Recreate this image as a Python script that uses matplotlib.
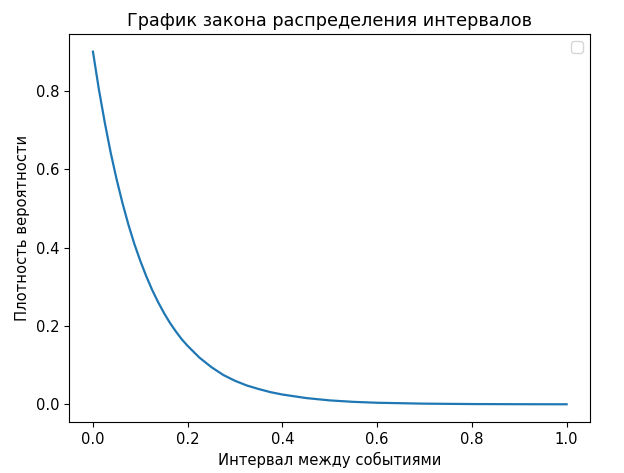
import matplotlib
matplotlib.use("Agg")
import matplotlib.pyplot as plt

# values
interval = [0.0, 0.0125, 0.025, 0.0375, 0.05, 0.0625, 0.075, 0.0875, 0.1, 0.1125,
            0.125, 0.1375, 0.15, 0.1625, 0.175, 0.1875, 0.2, 0.225, 0.25, 0.275,
            0.3, 0.325, 0.35, 0.375, 0.4, 0.45, 0.5, 0.55, 0.6, 0.7, 0.8, 0.9, 1.0]
density = [0.900, 0.804, 0.719, 0.642, 0.574, 0.513, 0.458, 0.409, 0.366, 0.327,
           0.292, 0.261, 0.233, 0.208, 0.186, 0.166, 0.149, 0.119, 0.095, 0.075,
           0.060, 0.048, 0.039, 0.031, 0.025, 0.016, 0.010, 0.0063, 0.004, 0.0017,
           0.0007, 0.0003, 0.0001]

plt.rcParams['font.size'] = 10.6
plt.rcParams['lines.linewidth'] = 1.6

fig, ax = plt.subplots(figsize=(6.24, 4.73), dpi=100)
fig.subplots_adjust(left=0.111, right=0.946, bottom=0.108, top=0.928)
ax.plot(interval, density)
ax.set_title('График закона распределения интервалов', fontsize=12.7)
ax.set_xlabel('Интервал между событиями')
ax.set_ylabel('Плотность вероятности')
ax.legend(handles=[], labels=[])

fig.savefig('out.png', dpi=100)
